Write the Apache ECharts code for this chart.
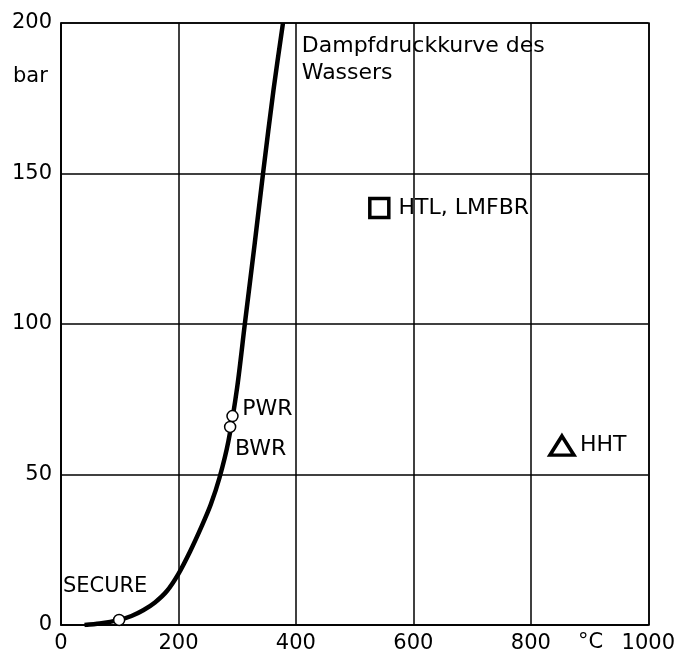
<!DOCTYPE html>
<html>
<head>
<meta charset="utf-8">
<script src="https://cdn.jsdelivr.net/npm/echarts@6/dist/echarts.min.js"></script>
<style>html,body{margin:0;padding:0;background:#fff}#c{width:678px;height:665px}</style>
</head>
<body>
<div id="c"></div>
<script>
// Vapour pressure curve of water (temperature °C, pressure bar)
var curveT = [40, 66, 99, 120, 140, 160, 180, 200, 220, 240, 255, 270, 285, 300, 313, 330, 344, 362, 378];
var curveP = [0, 0.5, 1.7, 3.0, 4.9, 7.5, 11.2, 17, 24.5, 33, 40, 49, 61, 79, 100, 127, 150, 178, 200];
// Reactor operating points
var circleNames = ['SECURE', 'PWR', 'BWR'];
var circleT = [99, 292, 288];
var circleP = [1.7, 69.4, 65.8];
var squareName = 'HTL, LMFBR';
var squareT = [542];
var squareP = [138.5];
var triName = 'HHT';
var triT = [853];
var triP = [59.6];
var xTicks = [0, 200, 400, 600, 800, 1000];
var yTicks = [0, 50, 100, 150, 200];
var curveLabel = 'Dampfdruckkurve des\nWassers';

var FONT = 'DejaVu Sans';
var chart = echarts.init(document.getElementById('c'));
var curve = curveT.map(function (t, i) { return [t, curveP[i]]; });

var circleData = circleNames.map(function (n, i) { return { name: n, value: [circleT[i], circleP[i]] }; });
circleData[0].label = { position: [-50, -38], fontSize: 21 };
circleData[1].label = { position: [16, -12] };
circleData[2].label = { position: [11, 18] };

var option = {
  animation: false,
  grid: { left: 61, right: 29, top: 23, bottom: 40 },
  xAxis: {
    type: 'value', min: 0, max: 1000, interval: 200,
    axisLine: { show: true, lineStyle: { color: '#000', width: 1.5 } },
    axisTick: { show: false },
    axisLabel: { color: '#000', fontSize: 21, fontFamily: FONT, margin: 8,
      formatter: function (v) { return xTicks.indexOf(v) >= 0 ? String(v) : ''; } },
    splitLine: { show: true, lineStyle: { color: '#000', width: 1.5 } }
  },
  yAxis: {
    type: 'value', min: 0, max: 200, interval: 50,
    axisLine: { show: true, lineStyle: { color: '#000', width: 1.5 } },
    axisTick: { show: false },
    axisLabel: { color: '#000', fontSize: 21, fontFamily: FONT, margin: 9,
      formatter: function (v) { return yTicks.indexOf(v) >= 0 ? String(v) : ''; } },
    splitLine: { show: true, lineStyle: { color: '#000', width: 1.5 } }
  },
  graphic: [
    { type: 'rect', shape: { x: 61, y: 23, width: 588, height: 602 }, style: { fill: 'none', stroke: '#000', lineWidth: 1.5 }, silent: true },
    { type: 'text', left: 13, top: 66, style: { text: 'bar', fontSize: 21, fontFamily: FONT, fill: '#000' } },
    { type: 'text', left: 578, top: 632, style: { text: '°C', fontSize: 21, fontFamily: FONT, fill: '#000' } }
  ],
  series: [
    {
      type: 'line', data: curve, smooth: 0.3, symbol: 'none',
      lineStyle: { color: '#000', width: 4.5 }, z: 3
    },
    {
      type: 'scatter', symbol: 'circle', symbolSize: 11,
      itemStyle: { color: '#fff', borderColor: '#000', borderWidth: 1.5, opacity: 1 },
      data: circleData,
      label: { show: true, fontSize: 22, fontFamily: FONT, color: '#000', formatter: '{b}' },
      z: 5
    },
    {
      type: 'scatter', symbol: 'rect', symbolSize: 19,
      itemStyle: { color: 'rgba(0,0,0,0)', borderColor: '#000', borderWidth: 3.5, opacity: 1 },
      data: [{ name: squareName, value: [squareT[0], squareP[0]] }],
      label: { show: true, position: 'right', distance: 8, formatter: '{b}', fontSize: 22, fontFamily: FONT, color: '#000' },
      z: 5
    },
    {
      type: 'scatter', symbol: 'triangle', symbolSize: [24, 19],
      itemStyle: { color: 'rgba(0,0,0,0)', borderColor: '#000', borderWidth: 3.5, opacity: 1 },
      data: [{ name: triName, value: [triT[0], triP[0]] }],
      label: { show: true, position: 'right', distance: 4, formatter: '{b}', fontSize: 22, fontFamily: FONT, color: '#000' },
      z: 5
    },
    {
      type: 'scatter', symbolSize: 0, silent: true,
      itemStyle: { opacity: 1 },
      data: [{ name: curveLabel, value: [410, 187.7] }],
      label: { show: true, position: 'right', distance: 0, formatter: '{b}', fontSize: 22, lineHeight: 27, fontFamily: FONT, color: '#000' }
    }
  ]
};
chart.setOption(option);
</script>
</body>
</html>
